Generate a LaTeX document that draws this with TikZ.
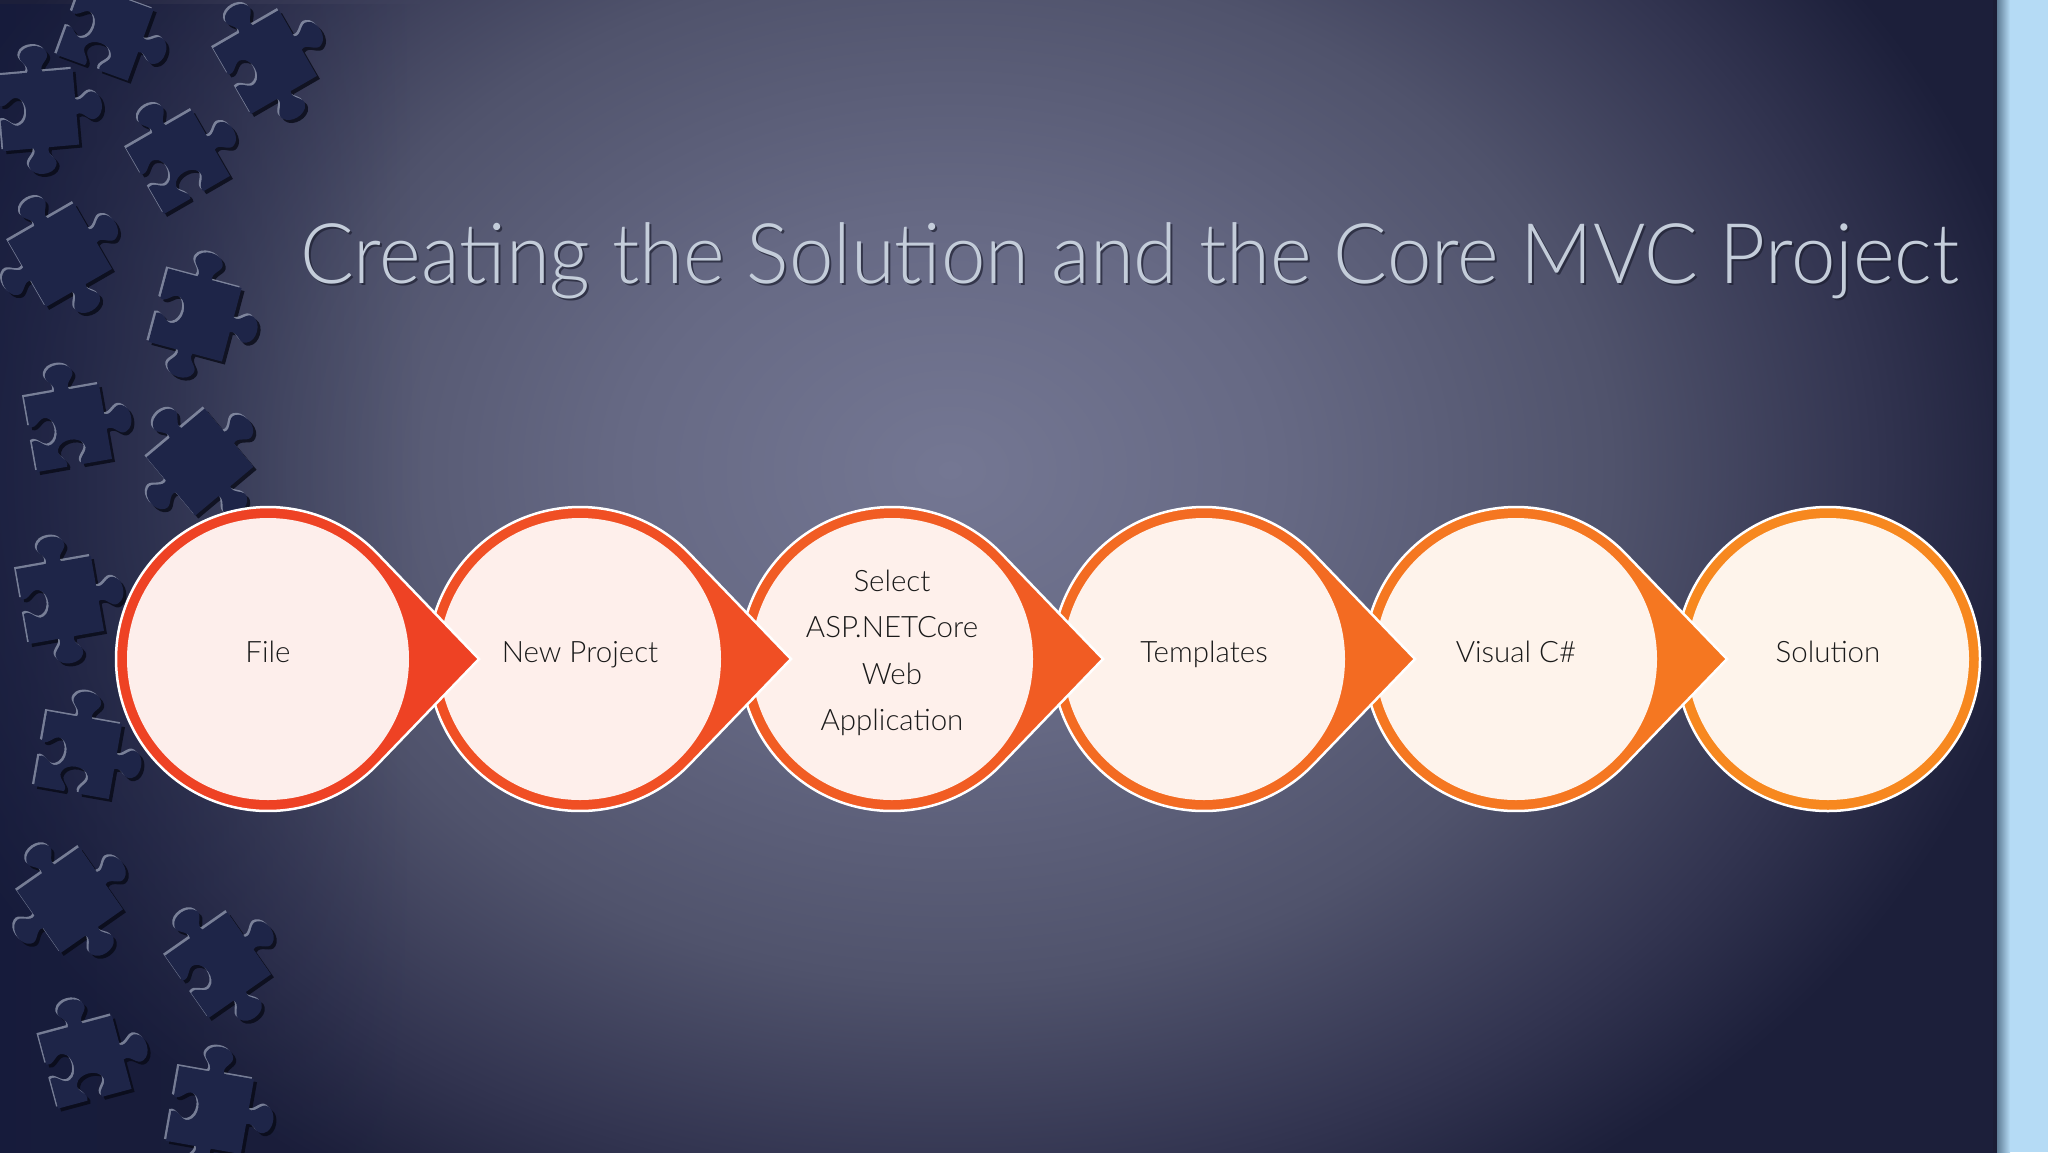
\documentclass[tikz,border=0pt]{standalone}
\usepackage{fontspec}
\usepackage{graphicx}
\newfontfamily\lt{Lato Light}
\usetikzlibrary{calc,fadings}
\definecolor{bg0}{RGB}{116,119,147}
\definecolor{bg1}{RGB}{102,105,132}
\definecolor{bg2}{RGB}{80,83,108}
\definecolor{bg3}{RGB}{50,52,80}
\definecolor{bg4}{RGB}{28,31,58}
\pgfdeclareradialshading{bgshade}{\pgfpoint{0bp}{0bp}}{color(0bp)=(bg0); color(7.5bp)=(bg1); color(15bp)=(bg2); color(21bp)=(bg3); color(25bp)=(bg4); color(50bp)=(bg4)}
\tikzfading[name=leftfade, left color=transparent!35, right color=transparent!100]
\definecolor{navy}{RGB}{20,26,60}
\definecolor{stripblue}{RGB}{181,219,245}
\definecolor{stripdark}{RGB}{95,125,150}
\definecolor{edgecol}{RGB}{27,29,53}
\definecolor{pzfillc}{RGB}{30,37,72}
\definecolor{pzlight}{RGB}{150,158,180}
\definecolor{pzdark}{RGB}{8,10,22}
\definecolor{titlec}{RGB}{196,205,218}
\definecolor{titlesh}{RGB}{30,32,50}
\definecolor{txt}{RGB}{26,26,26}
\definecolor{r1}{RGB}{238,66,36}
\definecolor{r2}{RGB}{240,79,36}
\definecolor{r3}{RGB}{241,92,35}
\definecolor{r4}{RGB}{243,107,34}
\definecolor{r5}{RGB}{245,119,33}
\definecolor{r6}{RGB}{247,136,31}
% puzzle piece outlines (four tabs out)
\def\pzA{(-40,-40) -- (-8,-40) .. controls (-4,-48) and (-18,-52) .. (-14,-60) .. controls (-10,-70) and (10,-70) .. (14,-60) .. controls (18,-52) and (4,-48) .. (8,-40) -- (40,-40) -- (40,-8) .. controls (48,-4) and (52,-18) .. (60,-14) .. controls (70,-10) and (70,10) .. (60,14) .. controls (52,18) and (48,4) .. (40,8) -- (40,40) -- (8,40) .. controls (4,48) and (18,52) .. (14,60) .. controls (10,70) and (-10,70) .. (-14,60) .. controls (-18,52) and (-4,48) .. (-8,40) -- (-40,40) -- (-40,8) .. controls (-48,4) and (-52,18) .. (-60,14) .. controls (-70,10) and (-70,-10) .. (-60,-14) .. controls (-52,-18) and (-48,-4) .. (-40,-8) -- cycle}
% one notch (left)
\def\pzB{(-40,-40) -- (-8,-40) .. controls (-4,-48) and (-18,-52) .. (-14,-60) .. controls (-10,-70) and (10,-70) .. (14,-60) .. controls (18,-52) and (4,-48) .. (8,-40) -- (40,-40) -- (40,-8) .. controls (48,-4) and (52,-18) .. (60,-14) .. controls (70,-10) and (70,10) .. (60,14) .. controls (52,18) and (48,4) .. (40,8) -- (40,40) -- (8,40) .. controls (4,48) and (18,52) .. (14,60) .. controls (10,70) and (-10,70) .. (-14,60) .. controls (-18,52) and (-4,48) .. (-8,40) -- (-40,40) -- (-40,8) .. controls (-32,4) and (-28,18) .. (-20,14) .. controls (-10,10) and (-10,-10) .. (-20,-14) .. controls (-28,-18) and (-32,-4) .. (-40,-8) -- cycle}
% two notches (top, left)
\def\pzC{(-40,-40) -- (-8,-40) .. controls (-4,-48) and (-18,-52) .. (-14,-60) .. controls (-10,-70) and (10,-70) .. (14,-60) .. controls (18,-52) and (4,-48) .. (8,-40) -- (40,-40) -- (40,-8) .. controls (48,-4) and (52,-18) .. (60,-14) .. controls (70,-10) and (70,10) .. (60,14) .. controls (52,18) and (48,4) .. (40,8) -- (40,40) -- (8,40) .. controls (4,32) and (18,28) .. (14,20) .. controls (10,10) and (-10,10) .. (-14,20) .. controls (-18,28) and (-4,32) .. (-8,40) -- (-40,40) -- (-40,8) .. controls (-32,4) and (-28,18) .. (-20,14) .. controls (-10,10) and (-10,-10) .. (-20,-14) .. controls (-28,-18) and (-32,-4) .. (-40,-8) -- cycle}
\newcommand\piece[4]{%
  \begin{scope}[shift={(#1+3,#2+3)}, rotate=#3, scale=0.95]\fill[pzdark, opacity=0.8] #4;\end{scope}
  \begin{scope}[shift={(#1-2,#2-2)}, rotate=#3, scale=0.95]\fill[pzlight, opacity=0.75] #4;\end{scope}
  \begin{scope}[shift={(#1,#2)}, rotate=#3, scale=0.95]\fill[pzfillc] #4;\end{scope}}
\newcommand\tear[2]{%
  \filldraw[fill=#2, draw=white, line width=2.5pt] ($(#1)+(211,0)$) -- ($(#1)+(44.3:152)$) arc[start angle=44.3, end angle=315.7, radius=152] -- cycle;}
\tikzset{
  innerdisc/.style={circle, inner sep=0pt, minimum size=282pt, draw=none},
  steptext/.style={font=\lt\fontsize{29.5}{46.3}\selectfont, text=txt, inner sep=0pt},
}
\begin{document}
\begin{tikzpicture}[x=1pt,y=-1pt]
\useasboundingbox (0,0) rectangle (2048,1152);
% background
\begin{scope}
  \clip (0,0) rectangle (1997,1152);
  \shade[shading=bgshade] (950-1100,470-850) rectangle (950+1100,470+850);
  \fill[navy, path fading=leftfade] (0,0) rectangle (420,1152);
\end{scope}
\fill[stripblue] (1997,0) rectangle (2048,1152);
\shade[left color=stripdark, right color=stripblue] (1997,0) rectangle (2010,1152);
\fill[edgecol] (1993,0) rectangle (1997,1152);
% puzzle pieces
\piece{105}{32}{-20}{\pzC}
\piece{265}{62}{30}{\pzB}
\piece{38}{110}{5}{\pzB}
\piece{178}{162}{30}{\pzC}
\piece{60}{255}{30}{\pzA}
\piece{195}{315}{-15}{\pzB}
\piece{68}{428}{10}{\pzC}
\piece{200}{462}{40}{\pzA}
\piece{60}{600}{10}{\pzB}
\piece{78}{755}{-10}{\pzC}
\piece{70}{900}{35}{\pzA}
\piece{218}{965}{35}{\pzB}
\piece{85}{1062}{15}{\pzC}
\piece{210}{1110}{-10}{\pzB}
% title
\node[anchor=base west, inner sep=0pt, text=titlesh, opacity=0.7] (titlesh) at (302,285) {\resizebox{1659pt}{\height}{\lt\fontsize{83.7}{90}\selectfont Creating the Solution and the Core MVC Project}};
\node[anchor=base west, inner sep=0pt, text=titlec] (title) at (300,283) {\resizebox{1659pt}{\height}{\lt\fontsize{83.7}{90}\selectfont Creating the Solution and the Core MVC Project}};
% steps
\coordinate (c1) at (268,659);
\coordinate (c2) at (580,659);
\coordinate (c3) at (892,659);
\coordinate (c4) at (1204,659);
\coordinate (c5) at (1516,659);
\coordinate (c6) at (1828,659);
\filldraw[fill=r6, draw=white, line width=2.5pt] (c6) circle[radius=152];
\node[innerdisc, fill=r6!9!white] (s6) at (c6) {};
\tear{c5}{r5}
\node[innerdisc, fill=r5!9!white] (s5) at (c5) {};
\tear{c4}{r4}
\node[innerdisc, fill=r4!9!white] (s4) at (c4) {};
\tear{c3}{r3}
\node[innerdisc, fill=r3!9!white] (s3) at (c3) {};
\tear{c2}{r2}
\node[innerdisc, fill=r2!9!white] (s2) at (c2) {};
\tear{c1}{r1}
\node[innerdisc, fill=r1!9!white] (s1) at (c1) {};
% labels
\node[steptext, anchor=base] (t1) at (268,662) {File};
\node[steptext, anchor=base] (t2) at (580,662) {New Project};
\node[steptext, align=center, anchor=center] (t3) at (892,653) {Select\\ASP.NETCore\\Web\\Application};
\node[steptext, anchor=base] (t4) at (1204,662) {Templates};
\node[steptext, anchor=base] (t5) at (1516,662) {Visual C\#};
\node[steptext, anchor=base] (t6) at (1828,662) {Solution};
\end{tikzpicture}
\end{document}
